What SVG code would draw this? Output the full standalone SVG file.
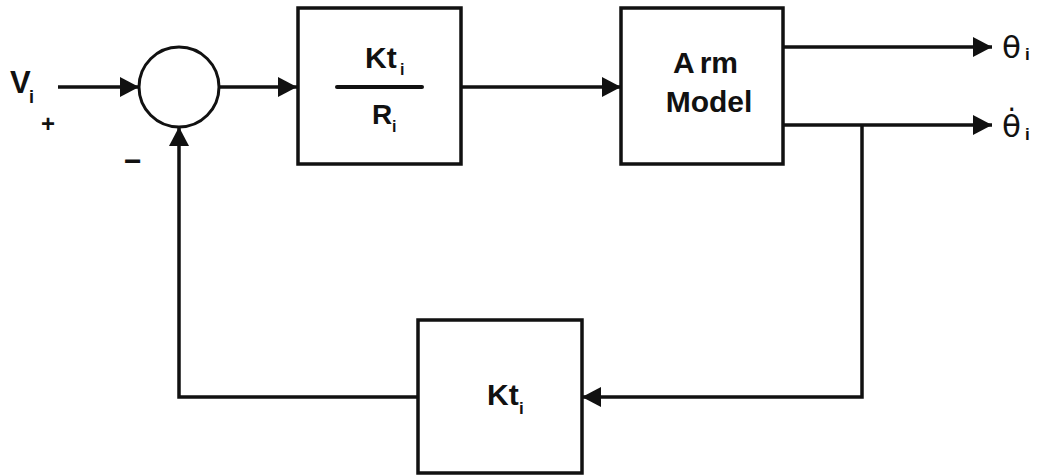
<svg xmlns="http://www.w3.org/2000/svg" width="1042" height="476" viewBox="0 0 1042 476">
<style>
.box{fill:#fff;stroke:#111;stroke-width:3.5}
.ln{fill:none;stroke:#111;stroke-width:3.5}
.t{font-family:"Liberation Sans",Arial,sans-serif;font-weight:bold;fill:#111}
.g{font-family:"DejaVu Sans","Liberation Sans",sans-serif;fill:#111}
</style>
<defs>
<marker id="ah" markerUnits="userSpaceOnUse" markerWidth="22" markerHeight="22" refX="19" refY="10" orient="auto">
<path d="M0,0 L19,10 L0,20 z" fill="#111"/>
</marker>
</defs>
<rect width="1042" height="476" fill="#fff"/>
<g id="connectors">
<line class="ln" x1="58" y1="87" x2="139" y2="87" marker-end="url(#ah)"/>
<line class="ln" x1="220" y1="87" x2="297" y2="87" marker-end="url(#ah)"/>
<line class="ln" x1="461" y1="87" x2="621" y2="87" marker-end="url(#ah)"/>
<line class="ln" x1="783" y1="47" x2="992" y2="47" marker-end="url(#ah)"/>
<line class="ln" x1="783" y1="125" x2="992" y2="125" marker-end="url(#ah)"/>
<polyline class="ln" points="862,125 862,397 582,397" marker-end="url(#ah)"/>
<polyline class="ln" points="418,397 179,397 179,127" marker-end="url(#ah)"/>
</g>
<g id="sum">
<circle cx="179" cy="87" r="40" fill="#fff" stroke="#111" stroke-width="3"/>
</g>
<g id="input">
<text class="t" x="10" y="93" font-size="31">V</text>
<text class="t" x="29" y="103" font-size="18">i</text>
<text class="t" x="41" y="132" font-size="24">+</text>
<text class="t" x="124" y="171" font-size="30">−</text>
</g>
<g id="gain">
<rect class="box" x="298" y="8" width="163" height="156"/>
<text class="t" x="365" y="68" font-size="30">Kt</text>
<text class="t" x="400" y="75" font-size="16">i</text>
<line x1="337" y1="87" x2="422" y2="87" stroke="#111" stroke-width="4" stroke-linecap="round"/>
<text class="t" x="372" y="124" font-size="28">R</text>
<text class="t" x="392" y="132" font-size="16">i</text>
</g>
<g id="arm">
<rect class="box" x="621" y="8" width="162" height="156"/>
<text class="t" x="673" y="73" font-size="30">A<tspan dx="5">rm</tspan></text>
<text class="t" x="709" y="112" font-size="30" text-anchor="middle">Model</text>
</g>
<g id="feedback">
<rect class="box" x="418" y="320" width="164" height="153"/>
<text class="t" x="487" y="405" font-size="30">Kt</text>
<text class="t" x="519" y="414" font-size="17">i</text>
</g>
<g id="outputs">
<text class="g" x="1002" y="58" font-size="31">θ</text>
<text class="t" x="1025" y="60" font-size="17" font-weight="normal">i</text>
<text class="g" x="1002" y="137" font-size="31">θ̇</text>
<text class="t" x="1025" y="140" font-size="17">i</text>
</g>
</svg>
